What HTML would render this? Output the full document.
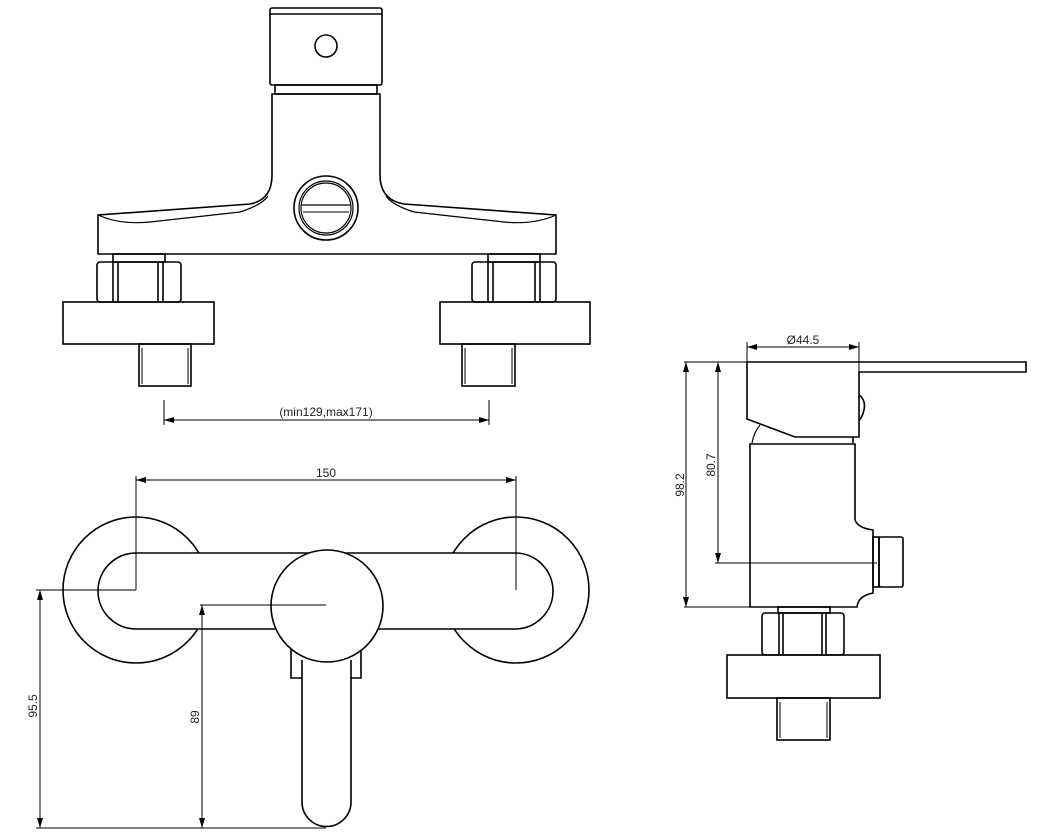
<!DOCTYPE html>
<html><head><meta charset="utf-8"><style>
html,body{margin:0;padding:0;background:#fff;}
svg{display:block;}
text{font-family:"Liberation Sans",sans-serif;font-size:12px;fill:#222;}
</style></head><body>
<svg width="1037" height="840" viewBox="0 0 1037 840" xmlns="http://www.w3.org/2000/svg">
<defs>
<marker id="a" viewBox="0 0 10 6" refX="10" refY="3" markerWidth="10" markerHeight="6" orient="auto-start-reverse" markerUnits="userSpaceOnUse"><path d="M0,0 L10,3 L0,6 z" fill="#000"/></marker>
</defs>
<g fill="none" stroke="#000" stroke-width="1.6">
<!-- TOP VIEW -->
<rect x="270" y="8" width="112" height="77" rx="2"/>
<line x1="270" y1="14" x2="382" y2="14"/>
<circle cx="326" cy="46" r="11"/>
<rect x="275" y="85" width="102" height="9"/>
<path d="M272,94 L272,175 Q272,200 250,204 L98,215 L98,254 L556,254 L556,215 L404,204 Q380,200 380,175 L380,94 Z"/>
<path d="M98,215 Q120,225 150,222 L240,212 Q262,205 268,196" stroke-width="1.2"/>
<path d="M556,215 Q534,225 504,222 L414,212 Q392,205 386,196" stroke-width="1.2"/>
<circle cx="326" cy="208" r="32"/>
<circle cx="326" cy="208" r="27" stroke-width="1.2"/>
<circle cx="326" cy="208" r="25" stroke-width="1.2"/>
<line x1="302" y1="205" x2="350" y2="205" stroke-width="1.2"/>
<line x1="303" y1="212" x2="349" y2="212" stroke-width="1"/>
<!-- left fittings -->
<rect x="113" y="254" width="52" height="8"/>
<rect x="97" y="262" width="84" height="40" rx="3"/>
<line x1="113" y1="262" x2="113" y2="302"/><line x1="118" y1="262" x2="118" y2="302"/>
<line x1="158" y1="262" x2="158" y2="302"/><line x1="163" y1="262" x2="163" y2="302"/>
<rect x="63" y="302" width="151" height="42"/>
<rect x="139" y="344" width="52" height="42"/>
<line x1="142" y1="348" x2="142" y2="384" stroke-width="1"/><line x1="188" y1="348" x2="188" y2="384" stroke-width="1"/>
<!-- right fittings -->
<rect x="488" y="254" width="52" height="8"/>
<rect x="472" y="262" width="84" height="40" rx="3"/>
<line x1="488" y1="262" x2="488" y2="302"/><line x1="493" y1="262" x2="493" y2="302"/>
<line x1="535" y1="262" x2="535" y2="302"/><line x1="540" y1="262" x2="540" y2="302"/>
<rect x="440" y="302" width="150" height="42"/>
<rect x="462" y="344" width="53" height="42"/>
<line x1="465" y1="348" x2="465" y2="384" stroke-width="1"/><line x1="512" y1="348" x2="512" y2="384" stroke-width="1"/>
</g>
<g stroke="#000" stroke-width="1" fill="none">
<line x1="164" y1="400" x2="164" y2="425"/><line x1="489" y1="400" x2="489" y2="425"/>
<line x1="164" y1="420" x2="489" y2="420" marker-start="url(#a)" marker-end="url(#a)"/>
</g>
<text x="326" y="416" text-anchor="middle">(min129,max171)</text>

<!-- FRONT VIEW -->
<g fill="none" stroke="#000" stroke-width="1.6">
<circle cx="136" cy="590" r="73"/>
<circle cx="516" cy="590" r="73"/>
<path d="M291,650 L361,650 L361,678 L291,678 Z" fill="#fff"/>
<rect x="98" y="553" width="455" height="76" rx="38" fill="#fff"/>
<path d="M302,660 L302,802 A24.5,24.5 0 0 0 351,802 L351,660" fill="#fff"/>
<circle cx="327" cy="606" r="56" fill="#fff"/>
</g>
<g stroke="#000" stroke-width="1" fill="none">
<line x1="136" y1="476" x2="136" y2="590"/><line x1="516" y1="476" x2="516" y2="590"/>
<line x1="136" y1="480" x2="516" y2="480" marker-start="url(#a)" marker-end="url(#a)"/>
<line x1="36" y1="590" x2="136" y2="590"/>
<line x1="40" y1="590" x2="40" y2="828" marker-start="url(#a)" marker-end="url(#a)"/>
<line x1="200" y1="605" x2="326" y2="605"/>
<line x1="202" y1="605" x2="202" y2="828" marker-start="url(#a)" marker-end="url(#a)"/>
<line x1="36" y1="828" x2="326" y2="828"/>
</g>
<text x="326" y="477" text-anchor="middle">150</text>
<text transform="translate(37,706) rotate(-90)" text-anchor="middle">95.5</text>
<text transform="translate(199,717) rotate(-90)" text-anchor="middle">89</text>

<!-- SIDE VIEW -->
<g fill="none" stroke="#000" stroke-width="1.6">
<path d="M747,362 L1026,362 L1026,372 L859,372 L859,437 L795,437 L747,419 Z"/>
<path d="M859,395 Q866,400 864,410 Q862,418 859,420" />
<path d="M752,443 Q754,432 760,425" stroke-width="1.2"/>
<path d="M853,443 L853,437"/>
<path d="M750,444 L855,444 L855,520 Q858,528 873,530 L873,593 Q858,596 857,607 L750,607 Z"/>
<rect x="873" y="537" width="6" height="50"/>
<rect x="879" y="537" width="24" height="50" rx="2"/>
<rect x="778" y="607" width="52" height="6"/>
<rect x="762" y="613" width="82" height="42" rx="3"/>
<line x1="779" y1="613" x2="779" y2="655"/><line x1="783" y1="613" x2="783" y2="655"/>
<line x1="822" y1="613" x2="822" y2="655"/><line x1="826" y1="613" x2="826" y2="655"/>
<rect x="727" y="655" width="153" height="43"/>
<rect x="777" y="698" width="53" height="42"/>
<line x1="780" y1="702" x2="780" y2="738" stroke-width="1"/><line x1="827" y1="702" x2="827" y2="738" stroke-width="1"/>
</g>
<g stroke="#000" stroke-width="1" fill="none">
<line x1="747" y1="342" x2="747" y2="362"/><line x1="859" y1="342" x2="859" y2="372"/>
<line x1="747" y1="347" x2="859" y2="347" marker-start="url(#a)" marker-end="url(#a)"/>
<line x1="684" y1="362" x2="747" y2="362"/>
<line x1="684" y1="607" x2="750" y2="607"/>
<line x1="686" y1="362" x2="686" y2="607" marker-start="url(#a)" marker-end="url(#a)"/>
<line x1="715" y1="563" x2="877" y2="563"/>
<line x1="718" y1="362" x2="718" y2="563" marker-start="url(#a)" marker-end="url(#a)"/>
</g>
<text x="803" y="344" text-anchor="middle">Ø44.5</text>
<text transform="translate(684,485) rotate(-90)" text-anchor="middle">98.2</text>
<text transform="translate(715,465) rotate(-90)" text-anchor="middle">80.7</text>
</svg>
</body></html>
